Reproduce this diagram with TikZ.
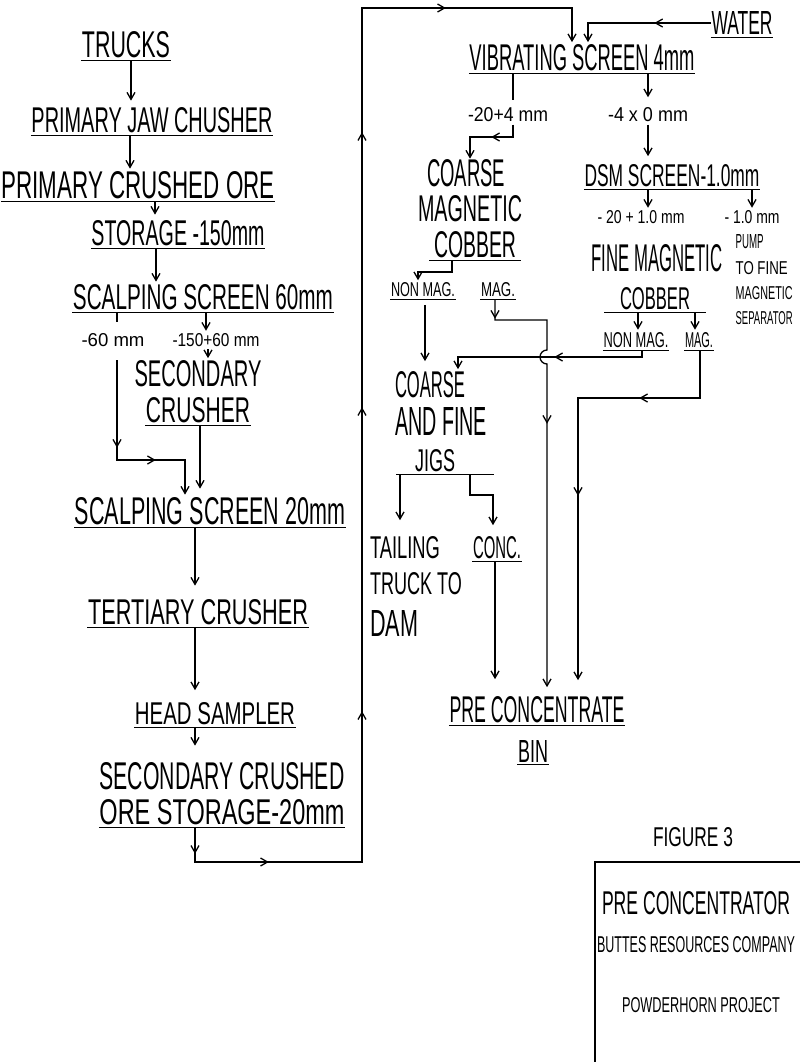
\documentclass[tikz,border=0pt]{standalone}
\usepackage{fontspec}
\setmainfont{Liberation Sans}
\usepackage{graphicx}
\usetikzlibrary{arrows.meta,decorations.markings,calc}
\newcommand{\fit}[3]{\resizebox{#1pt}{#2pt}{#3}}
\tikzset{
  lbl/.style={inner xsep=0pt, inner ysep=2pt},
  ul/.style={lbl, append after command={(\tikzlastnode.south west) edge[line width=1.3pt] (\tikzlastnode.south east)}},
  arr/.style={-{Straight Barb[length=7pt,width=8pt]}},
  mk/.style={postaction={decorate, decoration={markings, mark=at position #1 with {\arrow{Straight Barb[length=7pt,width=8pt]}}}}},
}
\begin{document}
\begin{tikzpicture}[x=1pt,y=-1pt,line width=1.3pt]
\useasboundingbox (0,0) rectangle (800,1062);
\fill[white] (0,0) rectangle (800,1062);
% ---------- left column ----------
\node[ul] (trucks) at (126,45) {\fit{88}{26}{TRUCKS}};
\node[ul] (jaw) at (152,120) {\fit{241}{25}{PRIMARY JAW CHUSHER}};
\node[ul] (pco) at (138,185) {\fit{273}{27}{PRIMARY CRUSHED ORE}};
\node[ul] (stor) at (178,233) {\fit{173}{25}{STORAGE -150mm}};
\node[ul] (ss60) at (203,297) {\fit{260}{25}{SCALPING SCREEN 60mm}};
\node[lbl] (l60) at (113,340) {\fit{63}{13}{-60 mm}};
\node[lbl] (l150) at (216,340) {\fit{87}{13}{-150+60 mm}};
\node[lbl] (sec1) at (198,374) {\fit{127}{26}{SECONDARY}};
\node[ul] (sec2) at (198,410) {\fit{104}{25}{CRUSHER}};
\node[ul] (ss20) at (210,511) {\fit{270}{27}{SCALPING SCREEN 20mm}};
\node[ul] (tert) at (198,612) {\fit{220}{25}{TERTIARY CRUSHER}};
\node[ul] (head) at (215,714) {\fit{160}{22}{HEAD SAMPLER}};
\node[lbl] (scs1) at (222,776) {\fit{245}{27}{SECONDARY CRUSHED}};
\node[ul] (scs2) at (222,812) {\fit{245}{25}{ORE STORAGE-20mm}};

\draw[arr,shorten >=4pt] (trucks.south -| 131,0) -- (jaw.north -| 131,0);
\draw[arr] (jaw.south -| 130,0) -- (pco.north -| 130,0);
\draw[arr,shorten >=3pt] (pco.south -| 155,0) -- (stor.north -| 155,0);
\draw[arr] (stor.south -| 156,0) -- (ss60.north -| 156,0);
\draw (ss60.south -| 117,0) -- ($(ss60.south -| 117,0)+(0,10)$);
\draw[arr,mk=87.5pt,mk=138.5pt] ($(l60.south -| 117,0)+(0,11)$) -- (117,460) -- (185,460) -- (ss20.north -| 185,0);
\draw[arr] (ss60.south -| 206,0) -- (l150.north -| 206,0);
\draw[arr] (l150.south -| 208,0) -- (sec1.north -| 208,0);
\draw[arr,shorten >=6pt] (sec2.south -| 200,0) -- (ss20.north -| 200,0);
\draw[arr,shorten >=11pt] (ss20.south -| 195,0) -- (tert.north -| 195,0);
\draw[arr,shorten >=10pt] (tert.south -| 195,0) -- (head.north -| 195,0);
\draw[arr,shorten >=14pt] (head.south -| 195,0) -- (scs1.north -| 195,0);

% ---------- right part ----------
\node[ul] (water) at (742,23) {\fit{61}{23}{WATER}};
\node[ul] (vib) at (582,58) {\fit{225}{26}{VIBRATING SCREEN 4mm}};
\node[lbl] (l204) at (508,115) {\fit{80}{14}{-20+4 mm}};
\node[lbl] (l40) at (648,115) {\fit{80}{14}{-4 x 0 mm}};
\node[lbl, inner ysep=0pt] (coarse) at (466,173) {\fit{78}{27}{COARSE}};
\node[lbl, inner ysep=0pt] (magn) at (470,209) {\fit{104}{26}{MAGNETIC}};
\node[ul, inner xsep=4pt] (cobber) at (475,245) {\fit{82}{26}{COBBER}};
\node[ul] (dsm) at (672,176) {\fit{175}{22}{DSM SCREEN-1.0mm}};
\node[lbl] (l201) at (641,217) {\fit{87}{13}{- 20 + 1.0 mm}};
\node[lbl] (l10) at (752,217) {\fit{55}{13}{- 1.0 mm}};
\node[lbl, anchor=west] (pump1) at (735,242) {\fit{28}{14}{PUMP}};
\node[lbl, anchor=west] (pump2) at (735,268) {\fit{52}{13}{TO FINE}};
\node[lbl, anchor=west] (pump3) at (735,293) {\fit{57}{13}{MAGNETIC}};
\node[lbl, anchor=west] (pump4) at (735,318) {\fit{57}{13}{SEPARATOR}};
\node[lbl] (fine1) at (657,258) {\fit{131}{27}{FINE MAGNETIC}};
\node[ul, inner xsep=15pt] (fine2) at (655,299) {\fit{70}{22}{COBBER}};
\node[ul] (cnm) at (423,290) {\fit{64}{14}{NON MAG.}};
\node[ul] (cmag) at (498,290) {\fit{34}{14}{MAG.}};
\node[ul] (fnm) at (636,340) {\fit{65}{15}{NON MAG.}};
\node[ul] (fmag) at (699,340) {\fit{28}{15}{MAG.}};
\node[lbl] (jig1) at (430,385) {\fit{70}{26}{COARSE}};
\node[lbl] (jig2) at (441,421) {\fit{92}{28}{AND FINE}};
\node[ul] (jig3) at (445,461) {\makebox[96pt][l]{\hspace{18pt}\fit{40}{22}{JIGS}}};
\node[lbl] (tail1) at (405,548) {\fit{70}{22}{TAILING}};
\node[lbl] (tail2) at (416,584) {\fit{92}{22}{TRUCK TO}};
\node[lbl] (tail3) at (394,623) {\fit{48}{26}{DAM}};
\node[ul] (conc) at (497,548) {\fit{48}{22}{CONC.}};
\node[ul] (pcb) at (537,710) {\fit{175}{26}{PRE CONCENTRATE}};
\node[ul] (bin) at (533,751) {\fit{30}{22}{BIN}};

\draw[arr,mk=26.5pt,mk=108.5pt,mk=352.5pt,mk=656.5pt,mk=931.5pt,mk=1139.5pt]
  (scs2.south -| 195,0) -- (195,862) -- (362,862) -- (362,8) -- (572,8) -- (vib.north -| 572,0);
\draw[arr,mk=56.5pt] (water.west) -- (588,23) -- (vib.north -| 588,0);
\draw (vib.south -| 513,0) -- (513,100);
\draw[arr,mk=34pt] (l204.south -| 513,0) -- (513,137) -- (470,137) -- (coarse.north -| 470,0);
\draw[arr,shorten >=8pt] (vib.south -| 648,0) -- (l40.north -| 648,0);
\draw[arr,shorten >=6pt] (l40.south -| 648,0) -- (dsm.north -| 648,0);
\draw[arr] (dsm.south -| 648,0) -- (l201.north -| 648,0);
\draw[arr] (dsm.south -| 752,0) -- (l10.north -| 752,0);
\draw[arr] (cobber.south -| 452,0) -- (452,272) -- (418,272) -- (cnm.north -| 418,0);
\draw[arr,shorten >=8pt] ($(cnm.south -| 425,0)+(0,5)$) -- (jig1.north -| 425,0);
\draw[arr] (fine2.south -| 638,0) -- (fnm.north -| 638,0);
\draw[arr] (fine2.south -| 695,0) -- (fmag.north -| 695,0);
\draw[arr,mk=94.5pt] (fnm.south -| 642,0) -- (642,357) -- (458,357) -- (jig1.north -| 458,0);
\draw[arr,mk=108.5pt,mk=267.5pt,shorten >=14pt] (fmag.south -| 700,0) -- (700,398) -- (578,398) -- (pcb.north -| 578,0);
\draw[arr,mk=19pt,mk=184pt,shorten >=7pt] (cmag.south -| 495,0) -- (495,320) -- (547,320) -- (547,350) arc(-90:-270:7) -- (pcb.north -| 547,0);
\draw[arr,shorten >=14pt] (jig3.south -| 400,0) -- (tail1.north -| 400,0);
\draw[arr,shorten >=9pt] (jig3.south -| 470,0) -- (470,495) -- (493,495) -- (conc.north -| 493,0);
\draw[arr,shorten >=15pt] (conc.south -| 495,0) -- (pcb.north -| 495,0);

% ---------- title block ----------
\node[lbl] (fig) at (693,837) {\fit{80}{19}{FIGURE 3}};
\draw (595,1062) -- (595,862) -- (800,862);
\node[lbl] (pcr) at (696,903) {\fit{188}{23}{PRE CONCENTRATOR}};
\node[lbl] (brc) at (696,945) {\fit{198}{16}{BUTTES RESOURCES COMPANY}};
\node[lbl] (pp) at (701,1005) {\fit{158}{15}{POWDERHORN PROJECT}};
\end{tikzpicture}
\end{document}
